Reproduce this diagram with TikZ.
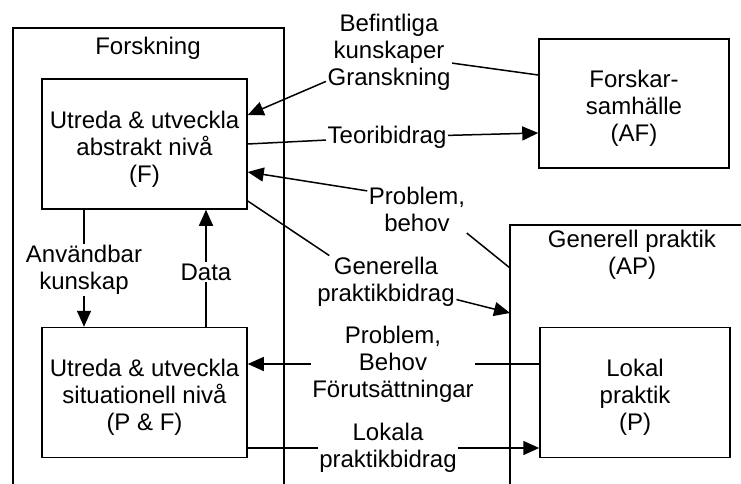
\documentclass[tikz,border=0pt]{standalone}
\usepackage{fontspec}
\setmainfont{Liberation Sans}
\usetikzlibrary{arrows.meta}

\begin{document}
\begin{tikzpicture}[x=1pt, y=-1pt, line width=1.5pt,
	every node/.style={font=\fontsize{24}{27}\selectfont},
	box/.style={draw, minimum width=205pt, minimum height=130pt, align=center, text height=81pt},
	lbl/.style={align=center, inner sep=1pt},
	pil/.style={-{Triangle[length=16pt,width=14pt]}}]
	\useasboundingbox (0,0) rectangle (741,484);

	% Forskning
	\draw (13,484) |- (284,28) -- (284,484);
	\node[lbl] (forsk) at (148,48) {Forskning};
	\node[box] (F) at (144.5,144) {Utreda \& utveckla\\abstrakt nivå\\(F)};
	\node[box] (PF) at (144.5,392.5) {Utreda \& utveckla\\situationell nivå\\(P \& F)};

	% Forskarsamhalle and Generell praktik
	\node[box, minimum width=190pt, minimum height=129pt] (AF) at (634,103.5) {Forskar-\\samhälle\\(AF)};
	\coordinate (ap) at (510,225);
	\draw (510,484) -- (ap) -- (741,225);
	\node[lbl] (apt) at (632,255) {Generell praktik\\(AP)};
	\node[box, minimum width=190pt] (P) at (635,392.5) {Lokal\\praktik\\(P)};

	% Labels on the connectors
	\node[lbl] (bef) at (389,52) {Befintliga\\kunskaper\\Granskning};
	\node[lbl] (teori) at (387,137) {Teoribidrag};
	\node[lbl] (pb) at (417,209) {Problem,\\behov};
	\node[lbl] (gp) at (386,282) {Generella\\praktikbidrag};
	\node[lbl] (pbf) at (393,364) {Problem,\\Behov\\Förutsättningar};
	\node[lbl] (lp) at (388,448) {Lokala\\praktikbidrag};
	\node[lbl] (ak) at (84,270) {Användbar\\kunskap};
	\node[lbl] (data) at (206,272) {Data};

	% Connectors
	\draw ([yshift=28.5pt]AF.west) -- (bef.-10);
	\draw[pil] (bef.205) -- ([yshift=29pt]F.east);
	\draw (F.east) -- (teori);
	\draw[pil] (teori) -- ([yshift=-29.5pt]AF.west);
	\draw ([yshift=-43pt]ap) -- (pb.south east);
	\draw[pil] (pb.160) -- ([yshift=-28pt]F.east);
	\draw ([yshift=-57pt]F.east) -- (gp.155);
	\draw[pil] (gp.-14) -- ([yshift=-88pt]ap);
	\draw (pbf -| P.west) -- (pbf.east);
	\draw[pil] (pbf.west) -- (pbf -| PF.east);
	\draw (lp -| PF.east) -- (lp.west);
	\draw[pil] (lp.east) -- (lp -| P.west);
	\draw (F.south -| ak) -- (ak);
	\draw[pil] (ak) -- (ak |- PF.north);
	\draw (PF.north -| data) -- (data);
	\draw[pil] (data) -- (data |- F.south);
\end{tikzpicture}
\end{document}
